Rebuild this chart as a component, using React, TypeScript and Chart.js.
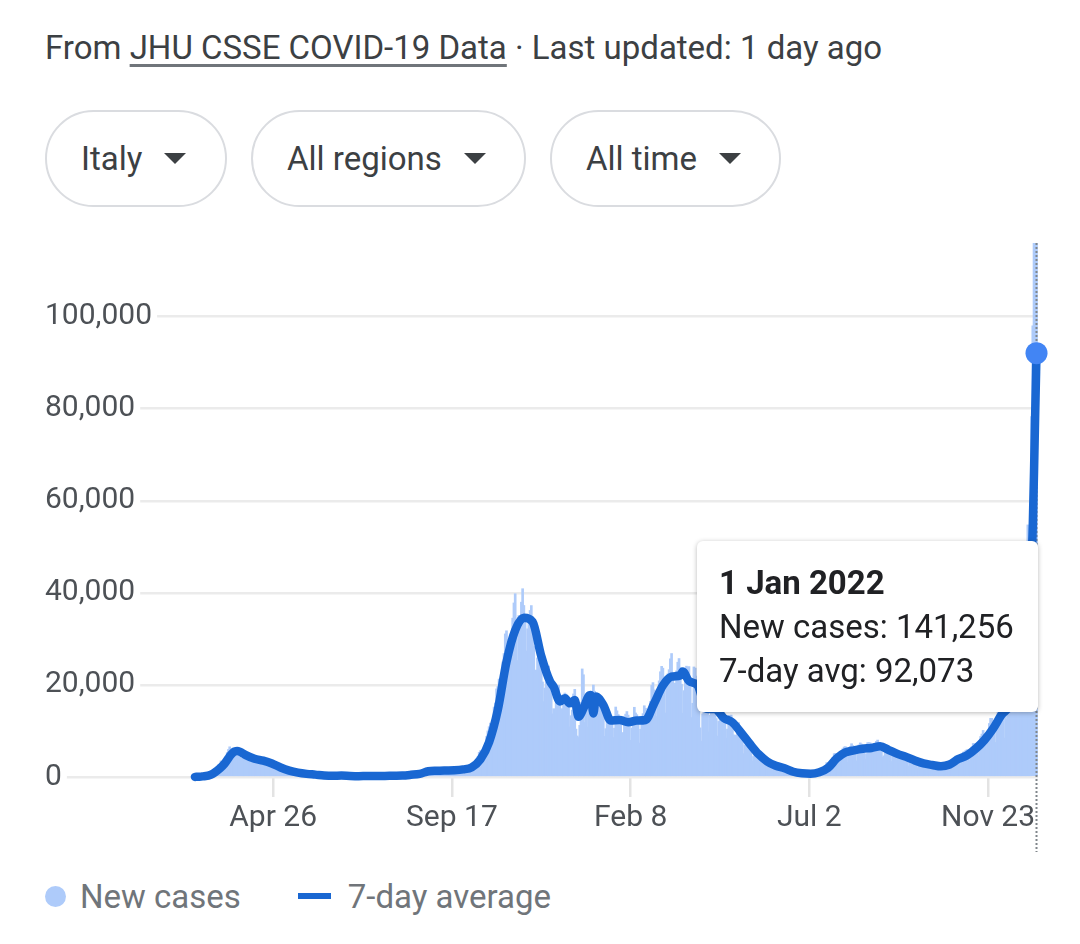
import React, { useEffect, useRef } from "react";
import { Chart, registerables } from "chart.js";

Chart.register(...registerables);

// Day 0 = Sun 23 Feb 2020, last day (678) = Sat 1 Jan 2022
const newCases: number[] = [
  76, 53, 97, 93, 78, 250, 238,
  240, 561, 347, 466, 587, 769, 778,
  1247, 1492, 1797, 977, 2313, 2651, 2547,
  3497, 2823, 3233, 3526, 4207, 5322, 5986,
  6557, 5560, 4789, 5249, 5210, 6153, 5959,
  5974, 5217, 4050, 4053, 4782, 4668, 4585,
  4805, 4316, 3599, 3039, 3836, 4204, 3951,
  4694, 4092, 3153, 2972, 2667, 3786, 3493,
  3491, 3047, 2256, 2729, 3370, 2646, 3021,
  2357, 2324, 1739, 2091, 2086, 1872, 1965,
  1900, 1389, 1221, 1075, 1444, 1401, 1327,
  1083, 802, 744, 1402, 888, 992, 789,
  875, 675, 451, 813, 665, 642, 652,
  669, 531, 300, 397, 584, 593, 516,
  416, 355, 178, 318, 321, 177, 518,
  270, 197, 280, 283, 202, 379, 163,
  346, 338, 301, 210, 329, 333, 251,
  262, 224, 221, 113, 296, 259, 175,
  174, 126, 142, 187, 201, 223, 235,
  192, 208, 138, 193, 229, 276, 188,
  234, 169, 114, 163, 230, 233, 249,
  219, 190, 129, 282, 306, 252, 275,
  255, 170, 212, 289, 386, 379, 295,
  239, 159, 190, 384, 402, 552, 347,
  463, 259, 412, 481, 523, 574, 629,
  479, 320, 403, 642, 845, 947, 1071,
  1210, 953, 878, 1367, 1411, 1462, 1444,
  1365, 996, 978, 1326, 1397, 1733, 1695,
  1297, 1108, 1370, 1434, 1597, 1616, 1501,
  1458, 1008, 1229, 1452, 1585, 1907, 1638,
  1587, 1350, 1392, 1640, 1786, 1912, 1869,
  1766, 1494, 1648, 1851, 2548, 2499, 2844,
  2578, 2257, 2677, 3678, 4458, 5372, 5724,
  5456, 4619, 5901, 7332, 8804, 10010, 10925,
  11705, 9338, 10874, 15199, 16079, 19143, 19644,
  21273, 17012, 21994, 24991, 26831, 31084, 31758,
  29907, 22253, 28244, 30550, 34505, 37809, 39811,
  32616, 25271, 35098, 32961, 37978, 40902, 37255,
  33979, 27354, 32191, 34283, 36176, 37242, 34767,
  28337, 22930, 23232, 25853, 29003, 28352, 26323,
  20648, 16377, 19350, 20709, 23225, 24099, 21052,
  18887, 13720, 14842, 12756, 16999, 18727, 19903,
  17938, 12030, 14844, 17572, 18236, 17992, 16308,
  15104, 10872, 13318, 14522, 18040, 19037, 10407,
  8913, 8585, 11212, 16202, 23477, 22211, 11831,
  14245, 10800, 15378, 18020, 17533, 17246, 19978,
  18627, 12545, 14242, 15774, 17230, 16146, 16310,
  13633, 8825, 10497, 12074, 13571, 14078, 13331,
  11629, 8561, 10593, 15204, 14372, 13574, 12715,
  11252, 7925, 9660, 13189, 13659, 14218, 13442,
  11641, 7970, 10630, 12956, 15146, 13908, 13532,
  12715, 7351, 10386, 12074, 13762, 15479, 14931,
  13452, 9630, 13314, 16424, 19886, 20499, 18916,
  17455, 13114, 17083, 20884, 22865, 24036, 23641,
  20765, 13902, 19749, 22409, 23310, 25673, 26824,
  21315, 15267, 20396, 23059, 24935, 25735, 23832,
  20159, 13846, 18765, 21267, 24076, 23839, 23987,
  19611, 12916, 16017, 23904, 23649, 21932, 21261,
  18025, 10680, 7767, 13708, 17221, 18938, 17567,
  15746, 9789, 13447, 16168, 16974, 15943, 15370,
  12694, 8864, 12074, 13844, 14761, 14320, 13158,
  11807, 8444, 10404, 13385, 12965, 13446, 12603,
  9148, 5948, 9116, 10585, 11807, 10554, 10176,
  8292, 5080, 6946, 7852, 8085, 7567, 6659,
  5753, 3455, 4452, 5506, 5741, 5218, 4717,
  3995, 2490, 3224, 3937, 3738, 3351, 2949,
  2962, 1820, 2483, 1896, 2884, 2557, 2436,
  2275, 1273, 1896, 2199, 1901, 1953, 1723,
  1390, 907, 881, 1255, 1400, 1197, 1004,
  881, 495, 835, 950, 927, 856, 776,
  679, 389, 679, 776, 882, 794, 808,
  679, 480, 907, 1010, 1394, 1390, 1400,
  1203, 888, 1552, 2153, 2455, 3127, 2455,
  2860, 2198, 3558, 4259, 5057, 5143, 5140,
  4743, 3117, 4522, 5696, 6171, 6513, 6599,
  5321, 3190, 4845, 6596, 7230, 6825, 6619,
  5735, 3512, 5258, 6968, 7409, 7162, 6951,
  5864, 3867, 5042, 7470, 7460, 7424, 7060,
  6274, 4368, 5959, 7748, 8026, 7135, 7216,
  5959, 4257, 4598, 6503, 6761, 6735, 6157,
  5402, 3361, 4720, 5923, 5193, 5315, 5193,
  4664, 2800, 4021, 4830, 4828, 5117, 4310,
  3800, 2407, 3377, 4058, 3794, 3970, 3702,
  3300, 2000, 2700, 3500, 3150, 3050, 2900,
  2700, 1650, 2270, 2980, 3130, 2780, 2770,
  2420, 1400, 2190, 2400, 2440, 2570, 2880,
  2540, 1360, 2150, 3150, 3300, 3220, 3320,
  3600, 2540, 3560, 4090, 4550, 4320, 4540,
  3600, 2700, 4050, 5400, 5500, 5770, 5940,
  5190, 3570, 5950, 6550, 7280, 7230, 7140,
  6600, 4490, 7480, 8800, 9330, 10120, 9240,
  9300, 5950, 9300, 11630, 12740, 12740, 12000,
  12250, 7500, 12160, 14250, 15960, 17000, 15770,
  15021, 8455, 16213, 12527, 17959, 19215, 21042,
  19000, 12712, 20677, 23195, 26109, 28632, 28064,
  24259, 16213, 30798, 36293, 44595, 50599, 54762,
  24971, 30810, 78313, 98030, 126888, 144243, 141256,
];

// 7-day average (trailing), read at these day indices
const avgDays: number[] = [
  0, 3, 6, 13, 20, 24, 27, 28, 31, 32, 34, 36, 41, 48, 55, 62, 69, 76, 83, 90,
  97, 104, 111, 118, 125, 132, 139, 146, 153, 160, 167, 174, 181, 188, 195, 202,
  209, 216, 223, 230, 237, 244, 251, 258, 265, 272, 279, 286, 289, 294, 298, 302,
  306, 309, 313, 317, 319, 321, 323, 329, 335, 342, 349, 356, 363, 370, 377, 384,
  391, 393, 398, 405, 412, 419, 426, 433, 440, 447, 454, 461, 468, 475, 482, 489,
  496, 503, 510, 517, 524, 531, 538, 545, 552, 559, 566, 573, 580, 587, 594, 601,
  608, 615, 622, 629, 636, 643, 650, 657, 664, 667, 669, 671, 672, 673, 674, 675,
  676, 677, 678,
];
const avgValues: number[] = [
  22, 55, 126, 535, 1861, 2941, 4085, 4522, 5381, 5525, 5640, 5507, 4761, 3964, 3551, 2937, 2062, 1394, 957, 682,
  513, 326, 253, 301, 221, 184, 203, 199, 236, 284, 325, 477, 672, 1246, 1356, 1418,
  1468, 1648, 2093, 3821, 7578, 14569, 24992, 31868, 34583, 33713, 26290, 20780, 19600, 16400, 17100, 16000,
  16700, 13100, 14900, 17500, 17800, 13800, 17500, 15650, 12287, 12378, 11906, 12255, 12385, 16017, 19868, 21805,
  22077, 22900, 20848, 19899, 14844, 14777, 12816, 11865, 9619, 7212, 4977, 3383, 2434, 1889, 1148, 817,
  715, 1037, 1976, 4031, 5337, 5804, 6142, 6312, 6675, 5853, 5015, 4367, 3587, 2943, 2611, 2329,
  2720, 3886, 4709, 6130, 8009, 10523, 13556, 15776, 22627, 25324, 29836, 36788, 36890, 38975, 45763, 54583,
  66339, 79717, 92073,
];

const xTickDays: number[] = [63, 207, 351, 495, 639];
const xTickLabels: string[] = ["Apr 26", "Sep 17", "Feb 8", "Jul 2", "Nov 23"];
const yTickValues: number[] = [0, 20000, 40000, 60000, 80000, 100000];

const X_MIN = -120.8;
const X_MAX = 679.2;
const Y_MAX = 116000;
const HOVER_DAY = 678;

const hoverLinePlugin = {
  id: "hoverLine",
  afterDatasetDraw(chart: any, args: any) {
    if (args.meta.type !== "bar") return;
    const ctx = chart.ctx;
    const x = chart.scales.x.getPixelForValue(HOVER_DAY);
    const { top, bottom } = chart.chartArea;
    ctx.save();
    ctx.strokeStyle = "#80868b";
    ctx.lineWidth = 2;
    ctx.setLineDash([2, 2]);
    ctx.beginPath();
    ctx.moveTo(x, top);
    ctx.lineTo(x, bottom + 75);
    ctx.stroke();
    ctx.restore();
  },
};

export default function App() {
  const canvasRef = useRef<HTMLCanvasElement>(null);

  useEffect(() => {
    const lastIdx = avgDays.length - 1;
    const chart = new Chart(canvasRef.current as HTMLCanvasElement, {
      type: "bar",
      data: {
        datasets: [
          {
            type: "line",
            label: "7-day average",
            data: avgDays.map((d, i) => ({ x: d, y: avgValues[i] })),
            borderColor: "#1967d2",
            borderWidth: 8.5,
            borderJoinStyle: "round",
            borderCapStyle: "round",
            cubicInterpolationMode: "monotone",
            fill: false,
            pointRadius: (c: any) => (c.dataIndex === lastIdx ? 11 : 0),
            pointBackgroundColor: "#4285f4",
            pointBorderColor: "#4285f4",
            pointBorderWidth: 0,
            order: 0,
            clip: false,
          } as any,
          {
            type: "bar",
            label: "New cases",
            data: newCases.map((v, i) => ({ x: i, y: v })),
            backgroundColor: "#aecbfa",
            borderWidth: 0,
            barThickness: 2,
            order: 1,
          } as any,
        ],
      },
      options: {
        animation: false,
        responsive: false,
        events: [],
        layout: { padding: { left: 0, right: 42, top: 18, bottom: 28 } },
        plugins: {
          legend: { display: false },
          tooltip: { enabled: false },
        },
        scales: {
          x: {
            type: "linear",
            min: X_MIN,
            max: X_MAX,
            offset: false,
            afterBuildTicks: (s: any) => {
              s.ticks = xTickDays.map((v) => ({ value: v }));
            },
            afterFit: (s: any) => {
              s.height = 60;
            },
            ticks: {
              autoSkip: false,
              maxRotation: 0,
              padding: 3,
              color: "#4d5156",
              font: { family: "Roboto", size: 30 },
              callback: (_v: any, i: number) => xTickLabels[i],
            },
            grid: {
              offset: false,
              drawOnChartArea: false,
              drawTicks: true,
              tickLength: 20,
              color: "#e3e3e3",
              lineWidth: 2.5,
            },
            border: { display: false },
          },
          y: {
            type: "linear",
            min: 0,
            max: Y_MAX,
            afterBuildTicks: (s: any) => {
              s.ticks = yTickValues.map((v) => ({ value: v }));
            },
            afterFit: (s: any) => {
              s.width = 45;
            },
            ticks: {
              mirror: true,
              padding: 0,
              color: "#4d5156",
              font: { family: "Roboto", size: 30 },
              callback: (v: any) => Number(v).toLocaleString("en-US"),
              showLabelBackdrop: true,
              backdropColor: "#ffffff",
              backdropPadding: { left: 0, right: 5, top: 0, bottom: 0 },
            },
            grid: {
              drawTicks: false,
              color: "#ebebeb",
              lineWidth: 2.5,
            },
            border: { display: false },
          },
        },
      } as any,
      plugins: [hoverLinePlugin],
    });
    return () => chart.destroy();
  }, []);

  const pill = (text: string, left: number, width: number) => (
    <div
      style={{
        position: "absolute",
        left,
        top: 110,
        width,
        height: 97,
        boxSizing: "border-box",
        border: "2.5px solid #dadce0",
        borderRadius: 49,
        paddingLeft: 34,
        display: "flex",
        alignItems: "center",
        fontSize: 33,
        color: "#3c4043",
      }}
    >
      <span>{text}</span>
      <span
        style={{
          display: "inline-block",
          width: 0,
          height: 0,
          marginLeft: 22,
          borderLeft: "11px solid transparent",
          borderRight: "11px solid transparent",
          borderTop: "11px solid #3c4043",
        }}
      />
    </div>
  );

  return (
    <div
      style={{
        position: "absolute",
        left: 0,
        top: 0,
        width: 1080,
        height: 944,
        background: "#ffffff",
        fontFamily: "Roboto, sans-serif",
        overflow: "hidden",
      }}
    >
      <div
        style={{
          position: "absolute",
          left: 45,
          top: 28,
          fontSize: 33,
          lineHeight: "40px",
          color: "#3c4043",
          whiteSpace: "nowrap",
        }}
      >
        From{" "}
        <span
          style={{
            textDecoration: "underline",
            textDecorationColor: "#70757a",
            textDecorationThickness: "2.5px",
            textUnderlineOffset: "5px",
          }}
        >
          JHU CSSE COVID-19 Data
        </span>{" "}
        · Last updated: 1 day ago
      </div>

      {pill("Italy", 45, 182)}
      {pill("All regions", 251, 275)}
      {pill("All time", 550, 231)}

      <canvas
        ref={canvasRef}
        width={1080}
        height={640}
        style={{ position: "absolute", left: 0, top: 225 }}
      />

      <div
        style={{
          position: "absolute",
          left: 697,
          top: 541,
          width: 341,
          height: 171,
          boxSizing: "border-box",
          background: "#ffffff",
          borderRadius: 6,
          boxShadow: "0 1px 5px rgba(0,0,0,0.28)",
          paddingLeft: 22,
          paddingTop: 20,
          fontSize: 33,
          lineHeight: "44px",
          color: "#202124",
          whiteSpace: "nowrap",
        }}
      >
        <div style={{ fontWeight: 700 }}>1 Jan 2022</div>
        <div>New cases: 141,256</div>
        <div>7-day avg: 92,073</div>
      </div>

      <div
        style={{
          position: "absolute",
          left: 45,
          top: 876,
          height: 40,
          display: "flex",
          alignItems: "center",
          fontSize: 33,
          color: "#70757a",
          whiteSpace: "nowrap",
        }}
      >
        <span
          style={{
            display: "inline-block",
            width: 21,
            height: 21,
            borderRadius: "50%",
            background: "#aecbfa",
          }}
        />
        <span style={{ marginLeft: 14 }}>New cases</span>
        <span
          style={{
            display: "inline-block",
            width: 33,
            height: 6,
            background: "#1967d2",
            marginLeft: 57,
          }}
        />
        <span style={{ marginLeft: 17 }}>7-day average</span>
      </div>
    </div>
  );
}
